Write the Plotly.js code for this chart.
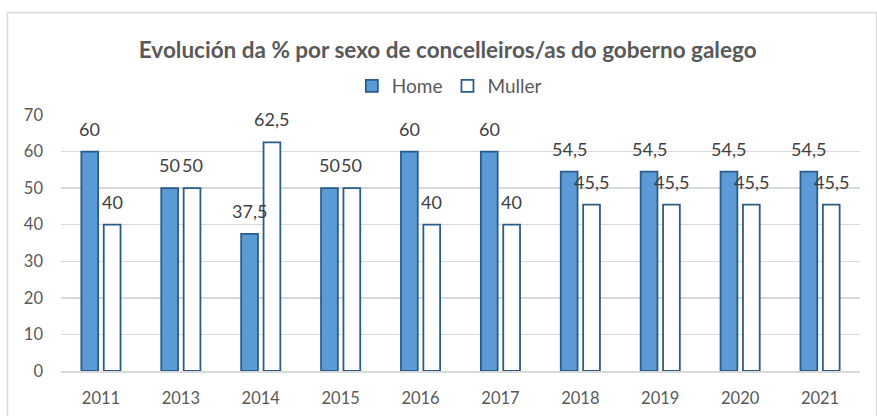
<!DOCTYPE html>
<html>
<head>
<meta charset="utf-8">
<script src="https://cdn.plot.ly/plotly-3.0.1.min.js"></script>
<style>
html, body { margin: 0; padding: 0; background: #ffffff; }
#chart { width: 877px; height: 416px; }
</style>
</head>
<body>
<div id="chart"></div>
<script>
// Data
const years = ['2011', '2013', '2014', '2015', '2016', '2017', '2018', '2019', '2020', '2021'];
const home = [60, 50, 37.5, 50, 60, 60, 54.5, 54.5, 54.5, 54.5];
const muller = [40, 50, 62.5, 50, 40, 40, 45.5, 45.5, 45.5, 45.5];
const seriesNames = ['Home', 'Muller'];
const chartTitle = 'Evolución da % por sexo de concelleiros/as do goberno galego';
const yTicks = [0, 10, 20, 30, 40, 50, 60, 70];

const FONT = 'Lato, "Open Sans", sans-serif';
const barLine = { color: '#2b5b8a', width: 1.8 };

const fmt = v => String(v).replace('.', ',');

const traces = [
  {
    type: 'bar', name: seriesNames[0], x: years, y: home,
    marker: { color: '#5b9bd5', line: barLine },
    hoverinfo: 'skip'
  },
  {
    type: 'bar', name: seriesNames[1], x: years, y: muller,
    marker: { color: '#ffffff', line: barLine },
    hoverinfo: 'skip'
  }
];

// data labels placed above each bar through the axes' own scales
// (category axis: annotation x is the category's serial index)
const SLOT = 11.2;
const annotations = [];
years.forEach((yr, i) => {
  [[home, -SLOT], [muller, SLOT]].forEach(([arr, dx]) => {
    annotations.push({
      x: i, y: arr[i], xref: 'x', yref: 'y',
      text: fmt(arr[i]), showarrow: false,
      xanchor: 'center', yanchor: 'middle',
      xshift: dx, yshift: 23,
      font: { family: FONT, size: 18, color: '#404040' }
    });
  });
});

const layout = {
  width: 877, height: 416,
  margin: { l: 61, r: 17, t: 115, b: 45 },
  paper_bgcolor: '#ffffff', plot_bgcolor: '#ffffff',
  barmode: 'group', bargap: 0.44, bargroupgap: 0.25,
  showlegend: true,
  title: {
    text: '<b>' + chartTitle + '</b>',
    font: { family: FONT, size: 22.5, color: '#595959' },
    x: 0.484, xref: 'paper', xanchor: 'center',
    y: 0.88, yref: 'container', yanchor: 'middle'
  },
  legend: {
    orientation: 'h', x: 0.486, xanchor: 'center', y: 1.113, yanchor: 'middle',
    font: { family: FONT, size: 19, color: '#595959' },
    bgcolor: 'rgba(0,0,0,0)', itemclick: false, itemdoubleclick: false
  },
  xaxis: {
    type: 'category', range: [-0.5, years.length - 0.5],
    showgrid: false, zeroline: false,
    showline: true, linecolor: '#d9d9d9', linewidth: 1.5,
    ticks: '', ticklabelstandoff: 12,
    tickfont: { family: FONT, size: 16.5, color: '#595959' },
    fixedrange: true
  },
  yaxis: {
    range: [0, 70], tickvals: yTicks, ticktext: yTicks.map(String),
    showgrid: true, gridcolor: '#d9d9d9', gridwidth: 1.3,
    zeroline: false, showline: false, ticks: '', ticklabelstandoff: 17,
    tickfont: { family: FONT, size: 16.5, color: '#595959' },
    fixedrange: true
  },
  annotations: annotations,
  shapes: [{
    type: 'rect', xref: 'paper', yref: 'paper', layer: 'below',
    x0: -0.067, x1: 1.0206, y0: -0.2, y1: 1.400,
    line: { color: '#d9d9d9', width: 1.5 }, fillcolor: 'rgba(0,0,0,0)'
  }]
};

Plotly.newPlot('chart', traces, layout, { displayModeBar: false, staticPlot: true });
</script>
</body>
</html>
